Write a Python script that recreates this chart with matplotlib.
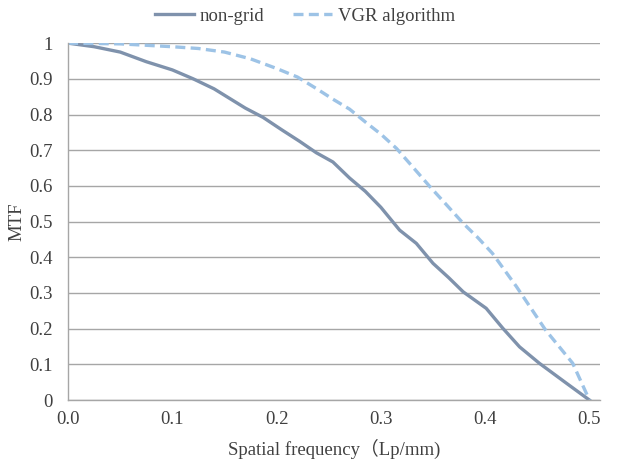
import matplotlib
matplotlib.use("Agg")
import matplotlib.pyplot as plt

# values
freq_nongrid = [0.0, 0.025, 0.05, 0.075, 0.1, 0.12, 0.14, 0.155, 0.17, 0.187,
                0.205, 0.222, 0.238, 0.254, 0.27, 0.285, 0.3, 0.318, 0.334,
                0.35, 0.365, 0.379, 0.401, 0.417, 0.433, 0.452, 0.478, 0.5]
mtf_nongrid = [1.0, 0.99, 0.975, 0.948, 0.925, 0.90, 0.872, 0.845, 0.818, 0.792,
               0.757, 0.725, 0.693, 0.667, 0.622, 0.585, 0.540, 0.476, 0.439,
               0.383, 0.343, 0.303, 0.257, 0.201, 0.149, 0.103, 0.047, 0.0]

freq_vgr = [0.0, 0.05, 0.1, 0.125, 0.15, 0.175, 0.2, 0.22, 0.238, 0.254, 0.27,
            0.286, 0.3, 0.315, 0.33, 0.347, 0.362, 0.379, 0.393, 0.407, 0.43,
            0.458, 0.484, 0.5]
mtf_vgr = [1.0, 0.998, 0.99, 0.985, 0.975, 0.956, 0.929, 0.905, 0.873, 0.843,
           0.815, 0.777, 0.745, 0.705, 0.655, 0.598, 0.55, 0.495, 0.455, 0.411,
           0.318, 0.196, 0.103, 0.0]

x_ticks = [0.0, 0.1, 0.2, 0.3, 0.4, 0.5]
x_labels = ['0.0', '0.1', '0.2', '0.3', '0.4', '0.5']
y_ticks = [0, 0.1, 0.2, 0.3, 0.4, 0.5, 0.6, 0.7, 0.8, 0.9, 1]
y_labels = ['0', '0.1', '0.2', '0.3', '0.4', '0.5', '0.6', '0.7', '0.8', '0.9', '1']

plt.rcParams['font.family'] = ['Liberation Serif', 'Noto Sans CJK SC']
fs = 13.5
txt = '#404040'

fig = plt.figure(figsize=(6.19, 4.59), dpi=100)
ax = fig.add_axes([0.110, 0.1285, 0.859, 0.7775])

ax.plot(freq_nongrid, mtf_nongrid, color='#7F92AC', lw=2.4, label='non-grid')
ax.plot(freq_vgr, mtf_vgr, color='#9DC3E6', lw=2.4, ls=(0, (3.0, 1.6)), label='VGR algorithm')

ax.set_xlim(0, 0.51)
ax.set_ylim(0, 1)
ax.set_xticks(x_ticks)
ax.set_xticklabels(x_labels)
ax.set_yticks(y_ticks)
ax.set_yticklabels(y_labels)
ax.tick_params(length=0, labelsize=fs, colors=txt)
ax.tick_params(axis='x', pad=8)
ax.tick_params(axis='y', pad=11)
ax.yaxis.grid(True, color='#A6A6A6', lw=1)
ax.set_axisbelow(True)
for s in ['top', 'right']:
    ax.spines[s].set_visible(False)
for s in ['left', 'bottom']:
    ax.spines[s].set_color('#A6A6A6')
    ax.spines[s].set_linewidth(1)

ax.set_xlabel('Spatial frequency（Lp/mm)', fontsize=fs, color=txt, labelpad=8)
ax.set_ylabel('MTF', fontsize=fs, color=txt, labelpad=3)

ax.legend(loc='center', bbox_to_anchor=(0.445, 1.076), ncol=2, frameon=False,
          fontsize=fs, handlelength=2.1, handletextpad=0.3, columnspacing=1.5,
          borderaxespad=0, labelcolor=txt)

fig.savefig('out.png', dpi=100)
